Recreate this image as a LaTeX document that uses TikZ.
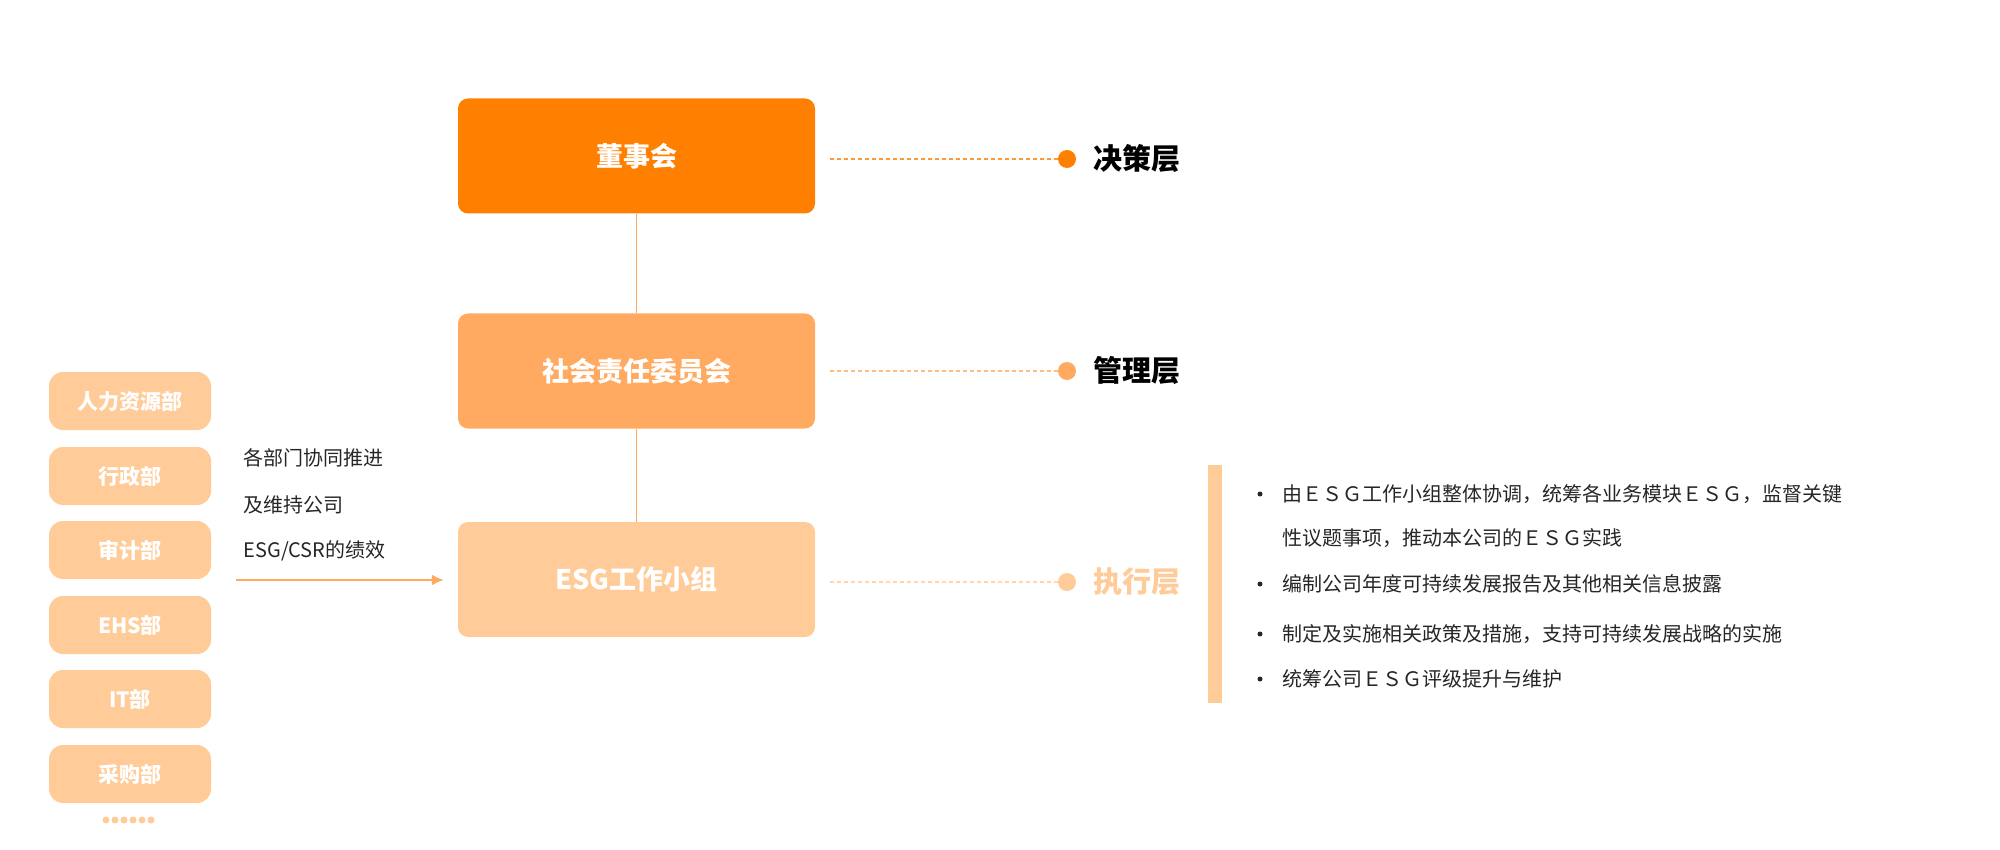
\documentclass[tikz,border=0pt]{standalone}
\usepackage{fontspec}
\usetikzlibrary{arrows.meta}
\setmainfont{Noto Sans CJK SC}
\begin{document}
\begin{tikzpicture}[x=1pt,y=-1pt,
  big/.style={rounded corners=10pt,minimum width=357pt,minimum height=115pt,text=white,font=\fontsize{27}{30}\selectfont\bfseries,inner sep=0},
  dept/.style={fill=cB,rounded corners=14pt,minimum width=162pt,minimum height=58pt,text=white,font=\fontsize{21}{24}\selectfont\bfseries,inner sep=0},
  lay/.style={anchor=west,font=\fontsize{29}{32}\selectfont\bfseries},
  dline/.style={dash pattern=on 4pt off 3pt,line width=1.2pt},
  txt/.style={anchor=west,font=\fontsize{20}{24}\selectfont,text=black!85},
  btxt/.style={anchor=west,font=\fontsize{20}{24}\selectfont,text=black!85}]
\definecolor{cA}{HTML}{FF8000}
\definecolor{cM}{HTML}{FFAA60}
\definecolor{cB}{HTML}{FFCC99}
\useasboundingbox (0,0) rectangle (2000,850);
\node[big,fill=cA] (b1) at (636.5,156) {董事会};
\node[big,fill=cM] (b2) at (636.5,371) {社会责任委员会};
\node[big,fill=cB] (b3) at (636.5,579.5) {ESG工作小组};
\draw[cM,line width=1.5pt] (b1.south) -- (b2.north);
\draw[cM,line width=1.5pt] (b2.south) -- (b3.north);
\foreach \n/\y/\c/\t/\tc in {1/159/cA/决策层/black,2/371/cM/管理层/black,3/582/cB/执行层/cB}{
  \coordinate (s\n) at (830,\y);
  \node[circle,fill=\c,minimum size=18pt,inner sep=0] (d\n) at (1067,\y) {};
  \draw[dline,\c!80] (s\n) -- (d\n.west);
  \node[lay,text=\tc] (l\n) at (1090,\y) {\t};
}
\foreach \i/\y/\t in {1/401/人力资源部,2/476/行政部,3/550/审计部,4/625/EHS部,5/699/IT部,6/774/采购部}
  \node[dept] (p\i) at (130,\y) {\t};
\foreach \i in {0,...,5} \fill[cB] (106+\i*9,820) circle (3.5pt);
\node[txt] (t1) at (240,458) {各部门协同推进};
\node[txt] (t2) at (240,505) {及维持公司};
\node[txt] (t3) at (240,551) {ESG/CSR的绩效};
\coordinate (a0) at (236,580);
\draw[cM,line width=2pt,-{Latex[length=12pt,width=11pt]}] (a0) -- ([xshift=-14pt]b3.west|-a0);
\fill[cB] (1208,465) rectangle (1222,703);
\foreach \y/\t in {494/由ＥＳＧ工作小组整体协调，统筹各业务模块ＥＳＧ，监督关键,538/性议题事项，推动本公司的ＥＳＧ实践,584/编制公司年度可持续发展报告及其他相关信息披露,634/制定及实施相关政策及措施，支持可持续发展战略的实施,679/统筹公司ＥＳＧ评级提升与维护}
  \node[btxt] at (1279,\y) {\t};
\foreach \y in {494,584,634,679} \fill[black!85] (1260,\y) circle (2.5pt);
\end{tikzpicture}
\end{document}
